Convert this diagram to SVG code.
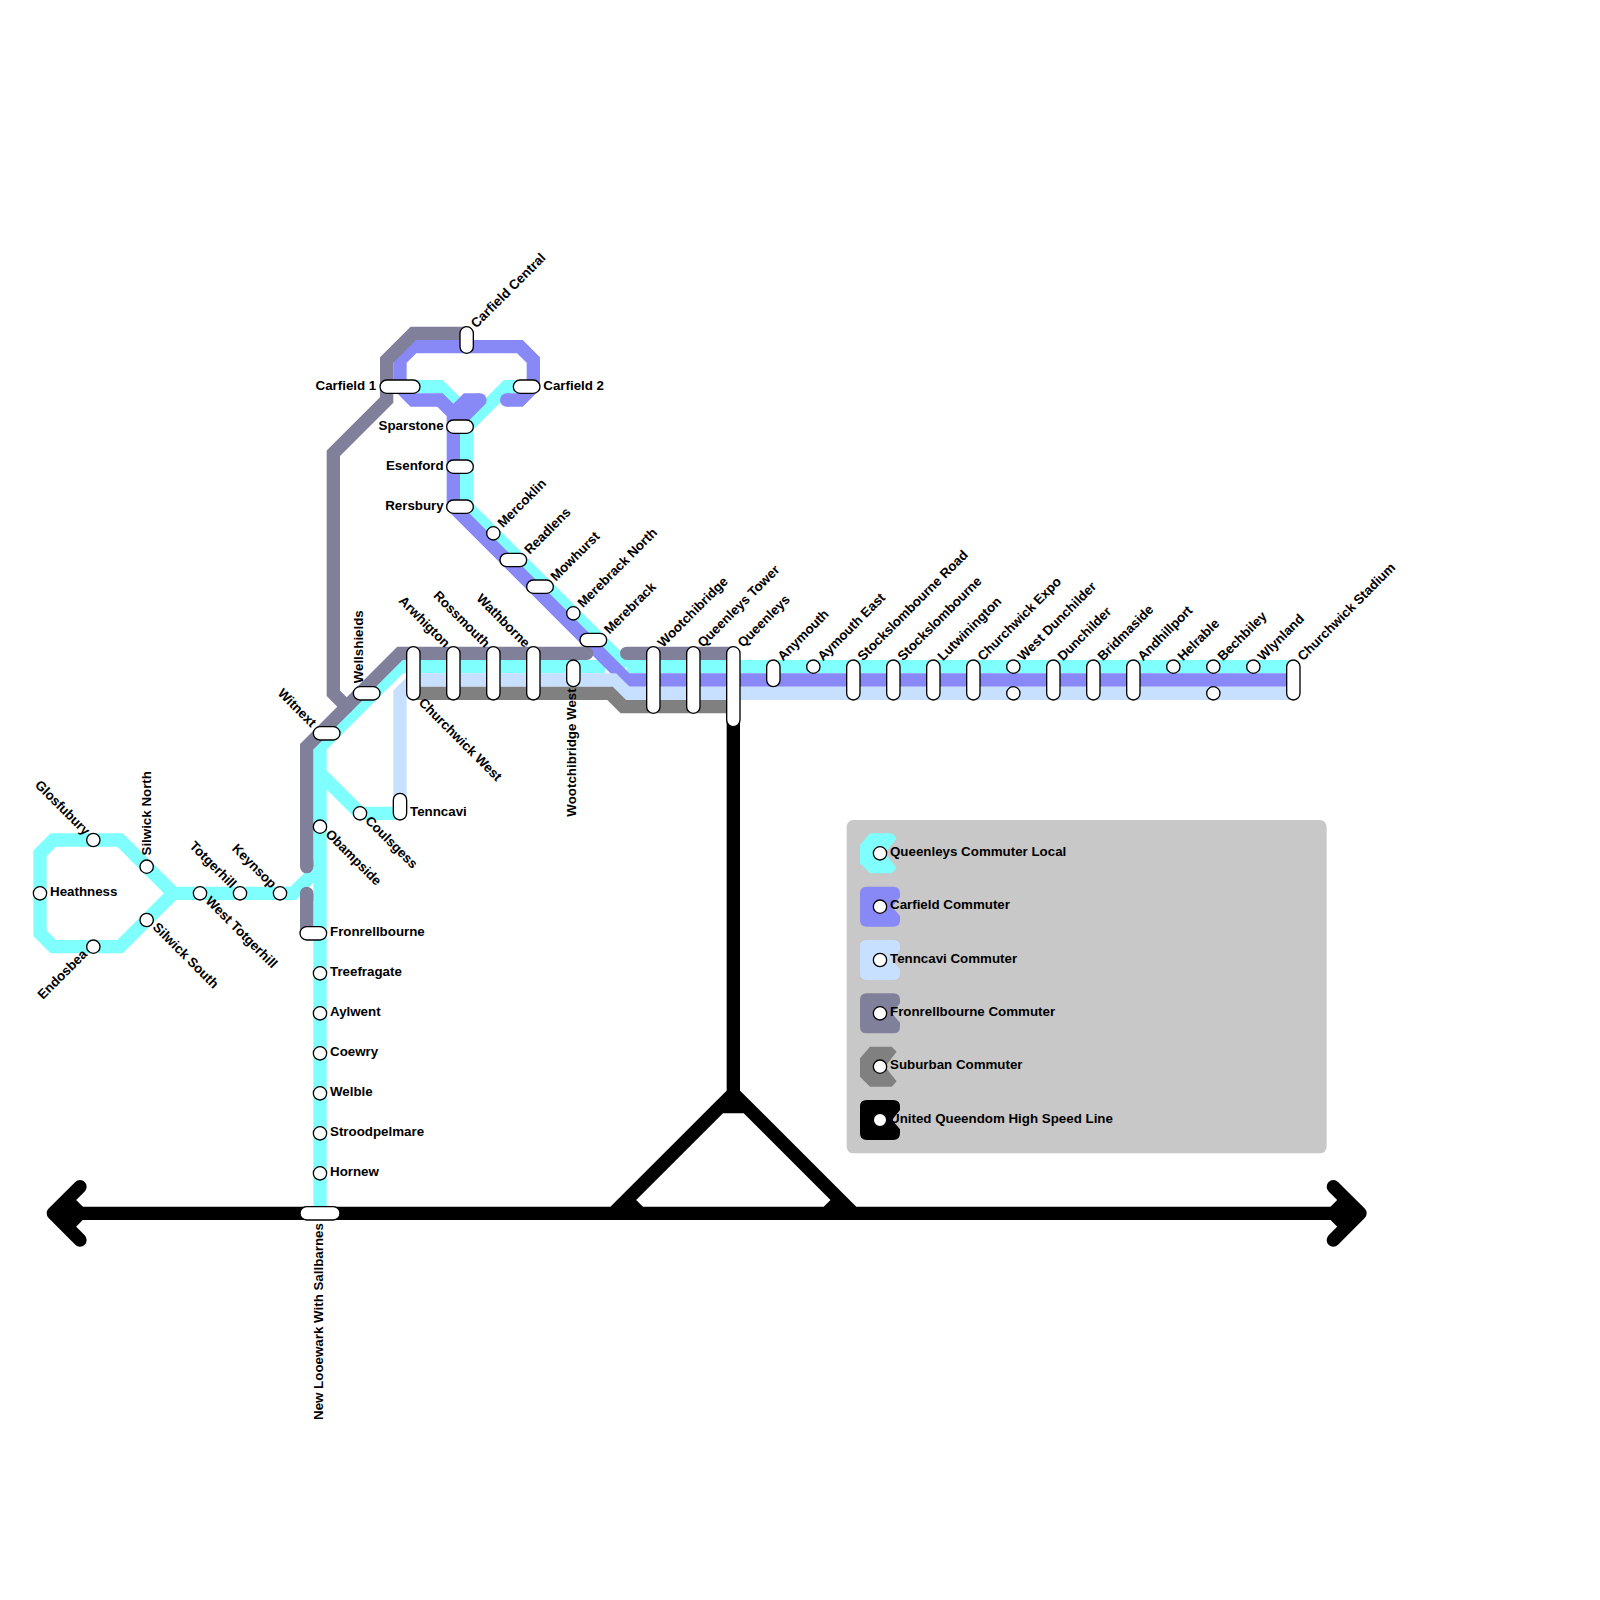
<svg xmlns="http://www.w3.org/2000/svg" width="1600" height="1600" viewBox="0 0 1600 1600">
<style>
.l{fill:none;stroke-width:13.33;stroke-linejoin:miter;stroke-linecap:butt}
.r{stroke-linecap:round}
.cy{stroke:#80ffff}.pu{stroke:#8888f6}.lb{stroke:#c8e0ff}.fr{stroke:#80809b}.su{stroke:#808080}.bk{stroke:#000}
.s{fill:#fff;stroke:#000;stroke-width:1.33}
text{font-family:"Liberation Sans",Arial,sans-serif;font-size:13.33px;font-weight:bold;fill:#000}
.e{text-anchor:end}
</style>
<rect width="1600" height="1600" fill="#fff"/>
<g id="connectors">
<path class="l cy" d="M173.33 893.33L120 840H53.33L40 853.33V933.33L53.33 946.67H120ZM173.33 893.33H293.33L320 866.67"/>
<path class="l cy" d="M320 1213.33V746.67L400 666.67H605M626.67 666.67H1293.33M320 773.33L360 813.33H400"/>
<path class="l cy" d="M400 386.67H440L466.67 413.33V506.67L626.67 666.67M520 386.67H506.67L466.67 426.67"/>
<path class="l pu" d="M400 386.67V360L413.33 346.67H520L533.33 360V386.67L520 400H506.67" stroke-linecap="round"/>
<path class="l pu" d="M400 386.67L413.33 400H440L453.33 413.33V506.67L626.67 680H1293.33M480 400H466.67L453.33 413.33"/>
<path class="l pu r" d="M480 400L453.33 426.67"/>
<circle cx="506.67" cy="400" r="6.67" fill="#8888f6"/>
<path class="l lb" d="M400 800V693.33L413.33 680H613.33L626.67 693.33H1293.33"/>
<path class="l fr r" d="M466.67 333.33H413.33L386.67 360V400L333.33 453.33V693.33L346.67 706.67"/>
<path class="l fr" d="M586.67 653.33H400L306.67 746.67V866.67M306.67 893.33V933.33"/>
<path class="l fr r" d="M626.67 653.33H733.33M306.67 860V866.67M306.67 893.33V900M580 653.33H586.67"/>
<path class="l su" d="M413.33 693.33H610L623.33 706.67H733.33"/>
<path class="l bk" d="M733.33 720V1106.67M53.33 1213.33H1360M613.33 1213.33L733.33 1093.33L853.33 1213.33M640 1213.33L626.67 1200L720 1106.67H746.67L840 1200L826.67 1213.33"/>
<path class="l bk r" style="stroke-linejoin:round" d="M80 1186.67L53.33 1213.33L80 1240M1333.33 1186.67L1360 1213.33L1333.33 1240"/>
<path class="l bk" d="M66.67 1200L80 1213.33L66.67 1226.67M1346.67 1200L1333.33 1213.33L1346.67 1226.67"/>
</g>
<g id="legend">
<rect x="846.67" y="820" width="480" height="333.33" rx="6.67" fill="#c8c8c8"/>
<path fill="#80ffff" d="M870 833.33H891.67L896.67 838.33L885 853.33L896.67 868L891.67 873.33H870L860 863.33V845Z"/>
<path fill="#8888f6" d="M866.67 886.67H893.33Q900 886.67 900 893.33V897L892 906.67L900 916V920Q900 926.67 893.33 926.67H866.67Q860 926.67 860 920V893.33Q860 886.67 866.67 886.67Z"/>
<path fill="#c8e0ff" d="M866.67 940H893.33Q900 940 900 946.67V950L892 960L900 969.33V973.33Q900 980 893.33 980H866.67Q860 980 860 973.33V946.67Q860 940 866.67 940Z"/>
<path fill="#80809b" d="M866.67 993.33H893.33Q900 993.33 900 1000V1003.33L892 1013.33L900 1022.67V1026.67Q900 1033.33 893.33 1033.33H866.67Q860 1033.33 860 1026.67V1000Q860 993.33 866.67 993.33Z"/>
<path fill="#808080" d="M870 1046.67H891.67L896.67 1051.67L885 1066.67L896.67 1081.33L891.67 1086.67H870L860 1076.67V1058.33Z"/>
<path fill="#000" d="M866.67 1100H893.33Q900 1100 900 1106.67V1110L892 1120L900 1129.33V1133.33Q900 1140 893.33 1140H866.67Q860 1140 860 1133.33V1106.67Q860 1100 866.67 1100Z"/>
<circle class="s" cx="880" cy="853.33" r="6.67"/><circle class="s" cx="880" cy="906.67" r="6.67"/><circle class="s" cx="880" cy="960" r="6.67"/><circle class="s" cx="880" cy="1013.33" r="6.67"/><circle class="s" cx="880" cy="1066.67" r="6.67"/><circle class="s" cx="880" cy="1120" r="6.67"/>
<text x="890" y="856">Queenleys Commuter Local</text>
<text x="890" y="909.3">Carfield Commuter</text>
<text x="890" y="962.7">Tenncavi Commuter</text>
<text x="890" y="1016">Fronrellbourne Commuter</text>
<text x="890" y="1069.3">Suburban Commuter</text>
<text x="890" y="1122.7">United Queendom High Speed Line</text>
</g>
<g id="n-carfield-central"><rect class="s" x="460" y="326.67" width="13.33" height="26.67" rx="6.67"/><text transform="translate(476.3,328.8) rotate(-45)">Carfield Central</text></g>
<g id="n-carfield-1"><rect class="s" x="380" y="380" width="40" height="13.33" rx="6.67"/><text class="e" x="376.3" y="389.7">Carfield 1</text></g>
<g id="n-carfield-2"><rect class="s" x="513.33" y="380" width="26.67" height="13.33" rx="6.67"/><text x="543.3" y="389.7">Carfield 2</text></g>
<g id="n-sparstone"><rect class="s" x="446.67" y="420" width="26.67" height="13.33" rx="6.67"/><text class="e" x="443.7" y="429.7">Sparstone</text></g>
<g id="n-esenford"><rect class="s" x="446.67" y="460" width="26.67" height="13.33" rx="6.67"/><text class="e" x="443.7" y="469.7">Esenford</text></g>
<g id="n-rersbury"><rect class="s" x="446.67" y="500" width="26.67" height="13.33" rx="6.67"/><text class="e" x="443.7" y="509.7">Rersbury</text></g>
<g id="n-mercoklin"><circle class="s" cx="493.33" cy="533.33" r="6.67"/><text transform="translate(503,528.3) rotate(-45)">Mercoklin</text></g>
<g id="n-readlens"><rect class="s" x="500" y="553.33" width="26.67" height="13.33" rx="6.67"/><text transform="translate(529.7,555) rotate(-45)">Readlens</text></g>
<g id="n-mowhurst"><rect class="s" x="526.67" y="580" width="26.67" height="13.33" rx="6.67"/><text transform="translate(556,581.7) rotate(-45)">Mowhurst</text></g>
<g id="n-merebrack-north"><circle class="s" cx="573.33" cy="613.33" r="6.67"/><text transform="translate(583,608.3) rotate(-45)">Merebrack North</text></g>
<g id="n-merebrack"><rect class="s" x="580" y="633.33" width="26.67" height="13.33" rx="6.67"/><text transform="translate(609.5,634.8) rotate(-45)">Merebrack</text></g>
<g id="n-churchwick-west"><rect class="s" x="406.67" y="646.67" width="13.33" height="53.33" rx="6.67"/><text transform="translate(418,703.5) rotate(45)">Churchwick West</text></g>
<g id="n-arwhigton"><rect class="s" x="446.67" y="646.67" width="13.33" height="53.33" rx="6.67"/><text class="e" transform="translate(444.5,648.2) rotate(45)">Arwhigton</text></g>
<g id="n-rossmouth"><rect class="s" x="486.67" y="646.67" width="13.33" height="53.33" rx="6.67"/><text class="e" transform="translate(484.5,648.2) rotate(45)">Rossmouth</text></g>
<g id="n-wathborne"><rect class="s" x="526.67" y="646.67" width="13.33" height="53.33" rx="6.67"/><text class="e" transform="translate(524.5,648.2) rotate(45)">Wathborne</text></g>
<g id="n-wootchibridge-west"><rect class="s" x="566.67" y="660" width="13.33" height="26.67" rx="6.67"/><text transform="translate(576,816.67) rotate(-90)">Wootchibridge West</text></g>
<g id="n-wootchibridge"><rect class="s" x="646.67" y="646.67" width="13.33" height="66.67" rx="6.67"/><text transform="translate(663,648) rotate(-45)">Wootchibridge</text></g>
<g id="n-queenleys-tower"><rect class="s" x="686.67" y="646.67" width="13.33" height="66.67" rx="6.67"/><text transform="translate(703,648) rotate(-45)">Queenleys Tower</text></g>
<g id="n-queenleys"><rect class="s" x="726.67" y="646.67" width="13.33" height="80" rx="6.67"/><text transform="translate(743,648) rotate(-45)">Queenleys</text></g>
<g id="n-anymouth"><rect class="s" x="766.67" y="660" width="13.33" height="26.67" rx="6.67"/><text transform="translate(783,661.5) rotate(-45)">Anymouth</text></g>
<g id="n-aymouth-east"><circle class="s" cx="813.33" cy="666.67" r="6.67"/><text transform="translate(823,661.5) rotate(-45)">Aymouth East</text></g>
<g id="n-stockslombourne-road"><rect class="s" x="846.67" y="660" width="13.33" height="40" rx="6.67"/><text transform="translate(863,661.5) rotate(-45)">Stockslombourne Road</text></g>
<g id="n-stockslombourne"><rect class="s" x="886.67" y="660" width="13.33" height="40" rx="6.67"/><text transform="translate(903,661.5) rotate(-45)">Stockslombourne</text></g>
<g id="n-lutwinington"><rect class="s" x="926.67" y="660" width="13.33" height="40" rx="6.67"/><text transform="translate(943,661.5) rotate(-45)">Lutwinington</text></g>
<g id="n-churchwick-expo"><rect class="s" x="966.67" y="660" width="13.33" height="40" rx="6.67"/><text transform="translate(983,661.5) rotate(-45)">Churchwick Expo</text></g>
<g id="n-west-dunchilder"><circle class="s" cx="1013.33" cy="666.67" r="6.67"/><circle class="s" cx="1013.33" cy="693.33" r="6.67"/><text transform="translate(1023,661.5) rotate(-45)">West Dunchilder</text></g>
<g id="n-dunchilder"><rect class="s" x="1046.67" y="660" width="13.33" height="40" rx="6.67"/><text transform="translate(1063,661.5) rotate(-45)">Dunchilder</text></g>
<g id="n-bridmaside"><rect class="s" x="1086.67" y="660" width="13.33" height="40" rx="6.67"/><text transform="translate(1103,661.5) rotate(-45)">Bridmaside</text></g>
<g id="n-andhillport"><rect class="s" x="1126.67" y="660" width="13.33" height="40" rx="6.67"/><text transform="translate(1143,661.5) rotate(-45)">Andhillport</text></g>
<g id="n-helrable"><circle class="s" cx="1173.33" cy="666.67" r="6.67"/><text transform="translate(1183,661.5) rotate(-45)">Helrable</text></g>
<g id="n-bechbiley"><circle class="s" cx="1213.33" cy="666.67" r="6.67"/><circle class="s" cx="1213.33" cy="693.33" r="6.67"/><text transform="translate(1223,661.5) rotate(-45)">Bechbiley</text></g>
<g id="n-wlynland"><circle class="s" cx="1253.33" cy="666.67" r="6.67"/><text transform="translate(1263,661.5) rotate(-45)">Wlynland</text></g>
<g id="n-churchwick-stadium"><rect class="s" x="1286.67" y="660" width="13.33" height="40" rx="6.67"/><text transform="translate(1303,661.5) rotate(-45)">Churchwick Stadium</text></g>
<g id="n-wellshields"><rect class="s" x="353.33" y="686.67" width="26.67" height="13.33" rx="6.67"/><text transform="translate(363.33,683.33) rotate(-90)">Wellshields</text></g>
<g id="n-witnext"><rect class="s" x="313.33" y="726.67" width="26.67" height="13.33" rx="6.67"/><text class="e" transform="translate(311,728) rotate(45)">Witnext</text></g>
<g id="n-tenncavi"><rect class="s" x="393.33" y="793.33" width="13.33" height="26.67" rx="6.67"/><text x="410" y="816">Tenncavi</text></g>
<g id="n-coulsgess"><circle class="s" cx="360" cy="813.33" r="6.67"/><text transform="translate(364.5,821.5) rotate(45)">Coulsgess</text></g>
<g id="n-obampside"><circle class="s" cx="320" cy="826.67" r="6.67"/><text transform="translate(324.7,835) rotate(45)">Obampside</text></g>
<g id="n-fronrellbourne"><rect class="s" x="300" y="926.67" width="26.67" height="13.33" rx="6.67"/><text x="330" y="936">Fronrellbourne</text></g>
<g id="n-treefragate"><circle class="s" cx="320" cy="973.33" r="6.67"/><text x="330" y="976">Treefragate</text></g>
<g id="n-aylwent"><circle class="s" cx="320" cy="1013.33" r="6.67"/><text x="330" y="1016">Aylwent</text></g>
<g id="n-coewry"><circle class="s" cx="320" cy="1053.33" r="6.67"/><text x="330" y="1056">Coewry</text></g>
<g id="n-welble"><circle class="s" cx="320" cy="1093.33" r="6.67"/><text x="330" y="1096">Welble</text></g>
<g id="n-stroodpelmare"><circle class="s" cx="320" cy="1133.33" r="6.67"/><text x="330" y="1136">Stroodpelmare</text></g>
<g id="n-hornew"><circle class="s" cx="320" cy="1173.33" r="6.67"/><text x="330" y="1176">Hornew</text></g>
<g id="n-new-looewark"><rect class="s" x="300" y="1206.67" width="40" height="13.33" rx="6.67"/><text transform="translate(323.2,1420) rotate(-90)">New Looewark With Sallbarnes</text></g>
<g id="n-glosfubury"><circle class="s" cx="93.33" cy="840" r="6.67"/><text class="e" transform="translate(84.5,836) rotate(45)">Glosfubury</text></g>
<g id="n-silwick-north"><circle class="s" cx="146.67" cy="866.67" r="6.67"/><text transform="translate(150.67,855.5) rotate(-90)">Silwick North</text></g>
<g id="n-heathness"><circle class="s" cx="40" cy="893.33" r="6.67"/><text x="50" y="896">Heathness</text></g>
<g id="n-endosbea"><circle class="s" cx="93.33" cy="946.67" r="6.67"/><text class="e" transform="translate(88,955) rotate(-45)">Endosbea</text></g>
<g id="n-silwick-south"><circle class="s" cx="146.67" cy="920" r="6.67"/><text transform="translate(152,928) rotate(45)">Silwick South</text></g>
<g id="n-west-totgerhill"><circle class="s" cx="200" cy="893.33" r="6.67"/><text transform="translate(204.7,901.7) rotate(45)">West Totgerhill</text></g>
<g id="n-totgerhill"><circle class="s" cx="240" cy="893.33" r="6.67"/><text class="e" transform="translate(231,889) rotate(45)">Totgerhill</text></g>
<g id="n-keynsop"><circle class="s" cx="280" cy="893.33" r="6.67"/><text class="e" transform="translate(271,889) rotate(45)">Keynsop</text></g>
</svg>
